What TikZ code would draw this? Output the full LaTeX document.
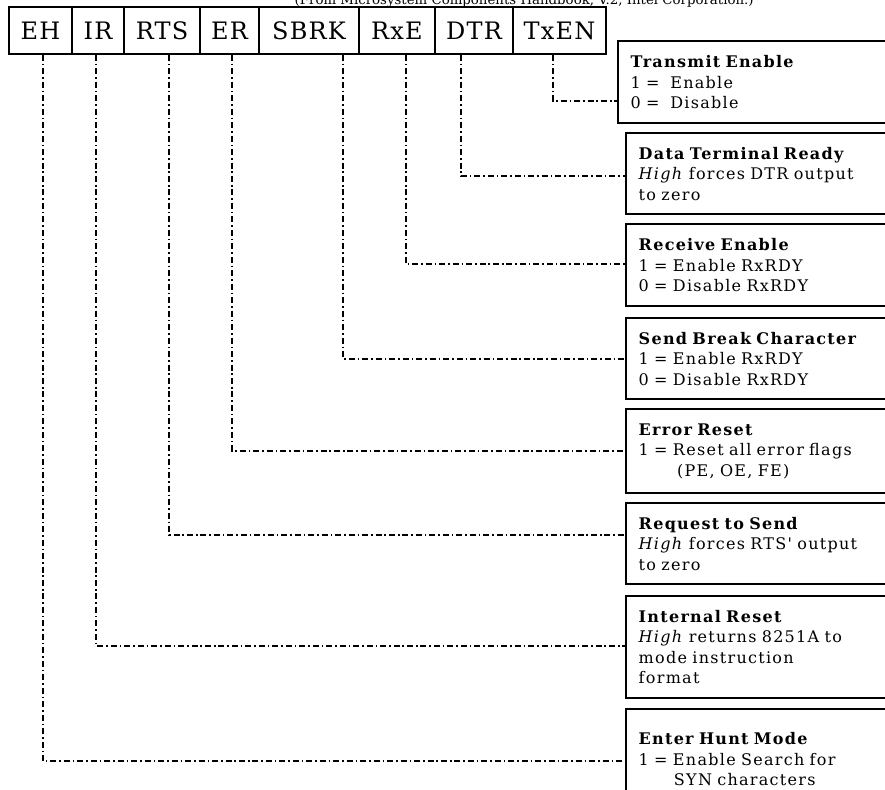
\documentclass[tikz,border=0pt]{standalone}
\usepackage{fontspec}
\setmainfont{DejaVu Serif}
\newfontfamily\boxfont[LetterSpace=8,WordSpace=1.6]{DejaVu Serif}
\newfontfamily\regfont[LetterSpace=5]{DejaVu Serif}
\usetikzlibrary{positioning,calc}
\tikzset{
  regcell/.style={draw=black,line width=1.4pt,inner sep=0pt,minimum height=35pt,
    font=\regfont\fontsize{18}{20}\selectfont},
  infobox/.style={draw=black,line width=1.6pt,anchor=north west,align=left,
    text width=183pt,inner xsep=9.5pt,inner ysep=4pt,font=\boxfont\fontsize{12}{15.4}\selectfont},
  dashdot/.style={line width=1.6pt,dash pattern=on 4.5pt off 2.2pt on 1.2pt off 2.2pt}
}

\begin{document}
\begin{tikzpicture}[x=0.75pt,y=-0.75pt]
  \useasboundingbox (0,0) rectangle (885,789);
  \clip (0,0) rectangle (885,789);

  \node[anchor=base west,font=\fontsize{10}{12}\selectfont] (src) at (290,4)
    {(From Microsystem Components Handbook, V.2, Intel Corporation.)};

  \foreach \name/\l/\r in {EH/9/72,IR/72/124,RTS/124/200,ER/200/259,
    SBRK/259/359,RxE/359/435,DTR/435/513,TxEN/513/606}
  \node[regcell,minimum width={(\r-\l)*0.75pt}] (\name) at ({(\l+\r)/2},30.5) {\name};

  \node[infobox,minimum height=61.5pt] (bTxEN) at (617,40)
    {\textbf{Transmit Enable}\\1 =\ \ Enable\\0 =\ \ Disable};
  \node[infobox,minimum height=60.75pt] (bDTR) at (625,132)
    {\textbf{Data Terminal Ready}\\\textit{High} forces DTR output\\to zero};
  \node[infobox,minimum height=61.5pt] (bRxE) at (625,223)
    {\textbf{Receive Enable}\\1 = Enable RxRDY\\0 = Disable RxRDY};
  \node[infobox,minimum height=60.75pt] (bSBRK) at (625,317)
    {\textbf{Send Break Character}\\1 = Enable RxRDY\\0 = Disable RxRDY};
  \node[infobox,minimum height=63pt] (bER) at (625,408)
    {\textbf{Error Reset}\\1 = Reset all error flags\\\hspace*{2.4em}(PE, OE, FE)};
  \node[infobox,minimum height=60.75pt] (bRTS) at (625,502)
    {\textbf{Request to Send}\\\textit{High} forces RTS' output\\to zero};
  \node[infobox,minimum height=76.5pt] (bIR) at (625,595)
    {\textbf{Internal Reset}\\\textit{High} returns 8251A to\\mode instruction\\format};
  \node[infobox,minimum height=75pt] (bEH) at (625,708)
    {\textbf{Enter Hunt Mode}\\1 = Enable Search for\\\hspace*{2.2em}SYN characters};

  \foreach \name/\dx/\dy in {TxEN/-6.5/19,DTR/-13/2.5,RxE/9/-1,SBRK/34/0,
    ER/2.5/0,RTS/7/-8.5,IR/-2/-1,EH/2.5/2}
  \draw[dashdot] ($(\name.south)+(\dx,0)$) |- ($(b\name.west)+(0,\dy)$);
\end{tikzpicture}
\end{document}
